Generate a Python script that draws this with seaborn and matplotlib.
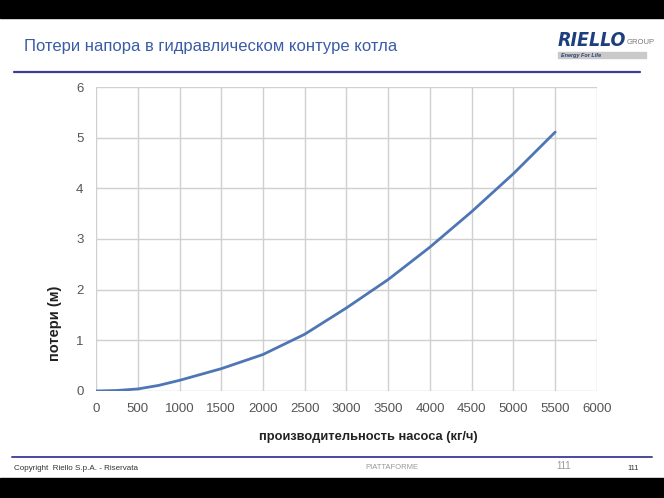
import pandas as pd
import matplotlib.pyplot as plt
import seaborn as sns
from matplotlib.patches import Rectangle

# values
flow = [0, 250, 500, 750, 1000, 1500, 2000, 2500, 3000, 3500, 4000, 4500, 5000, 5500]
losses = [0, 0.01, 0.04, 0.11, 0.21, 0.44, 0.72, 1.12, 1.64, 2.2, 2.84, 3.54, 4.29, 5.11]
x_ticks = list(range(0, 6001, 500))
y_ticks = list(range(0, 7))

title = "Потери напора в гидравлическом контуре котла"
x_label = "производительность насоса (кг/ч)"
y_label = "потери (м)"

df = pd.DataFrame({"flow": flow, "loss": losses})

sns.set_style("white")
plt.rcParams['font.family'] = ['Liberation Sans', 'DejaVu Sans']

fig = plt.figure(figsize=(6.64, 4.98), dpi=100)
ax = fig.add_axes([0.1446, 0.2149, 0.899 - 0.1446, 0.8253 - 0.2149])

sns.lineplot(data=df, x="flow", y="loss", ax=ax, color="#4f76b4", linewidth=2)

ax.set_xlim(0, 6000)
ax.set_ylim(0, 6)
ax.set_xticks(x_ticks)
ax.set_yticks(y_ticks)
ax.grid(True, color="#d0d0d0", linewidth=1)
ax.set_axisbelow(True)
for s in ax.spines.values():
    s.set_visible(False)
ax.tick_params(axis="y", length=4, color="#bbbbbb", labelsize=9.5, labelcolor="#555555", pad=5)
ax.tick_params(axis="x", length=0, labelsize=9.5, labelcolor="#555555", pad=9)
ax.set_xlabel(x_label, fontsize=9.3, fontweight="bold", color="#222222")
ax.set_ylabel(y_label, fontsize=10.5, fontweight="bold", color="#222222")
# labels sit off-centre in the original slide
ax.xaxis.set_label_coords(0.543, -0.132)
ax.yaxis.set_label_coords(-0.068, 0.224)

# black bars top and bottom
fig.patches.append(Rectangle((0, 1 - 18 / 498), 1, 18 / 498, transform=fig.transFigure,
                             color="black", zorder=10))
fig.patches.append(Rectangle((0, 0), 1, 20 / 498, transform=fig.transFigure,
                             color="black", zorder=10))

# header
fig.text(24 / 664, 1 - 46 / 498, title, fontsize=12, color="#3b5ca6", va="center", ha="left")
fig.lines.append(plt.Line2D([14 / 664, 640 / 664], [1 - 72 / 498] * 2, transform=fig.transFigure,
                            color="#3d3d8f", linewidth=1.6))
fig.text(558 / 664, 1 - 40 / 498, "RIELLO", fontsize=14, fontweight="bold", style="italic",
         color="#1e3f7e", va="center", ha="left", family="DejaVu Sans", fontstretch="condensed")
fig.text(627 / 664, 1 - 43 / 498, "GROUP", fontsize=5.5, color="#777777", va="center", ha="left")
fig.patches.append(Rectangle((558 / 664, 1 - 58 / 498), 88 / 664, 6 / 498, transform=fig.transFigure,
                             color="#c9c9c9", zorder=2))
fig.text(561 / 664, 1 - 55 / 498, "Energy For Life", fontsize=4, fontweight="bold", style="italic",
         color="#2c3f6e", va="center", ha="left", zorder=3)

# footer
fig.lines.append(plt.Line2D([12 / 664, 652 / 664], [1 - 457 / 498] * 2, transform=fig.transFigure,
                            color="#4a4a9a", linewidth=1.4))
fig.text(14 / 664, 1 - 468 / 498, "Copyright  Riello S.p.A. - Riservata", fontsize=5.8,
         color="#333333", va="center", ha="left")
fig.text(392 / 664, 1 - 467 / 498, "PIATTAFORME", fontsize=5.5, color="#999999", va="center", ha="center")
fig.text(564 / 664, 1 - 466 / 498, "111", fontsize=7, color="#999999", va="center", ha="center")
fig.text(633 / 664, 1 - 468 / 498, "111", fontsize=5.5, color="#333333", va="center", ha="center")

fig.savefig("out.png", dpi=100)
plt.close()
